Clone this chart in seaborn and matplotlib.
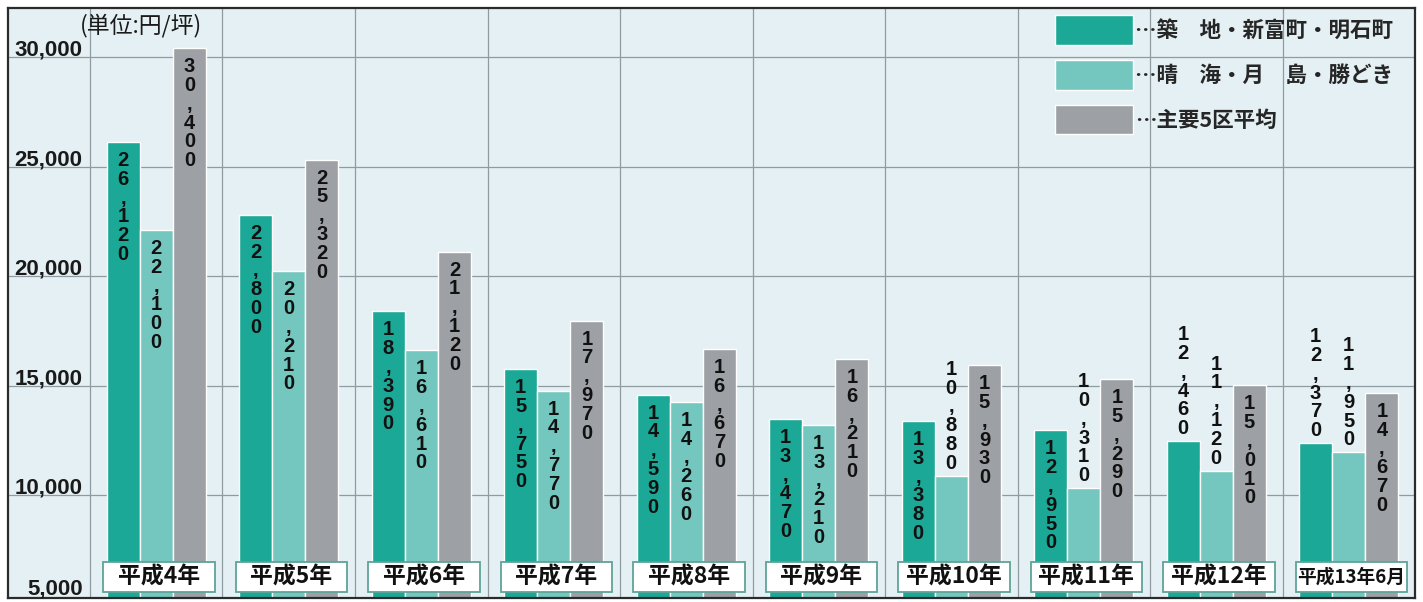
import pandas as pd
import matplotlib.pyplot as plt
import matplotlib.transforms as mtransforms
from matplotlib.patches import Rectangle
from matplotlib.font_manager import FontProperties
import seaborn as sns

years = ['平成4年', '平成5年', '平成6年', '平成7年', '平成8年',
         '平成9年', '平成10年', '平成11年', '平成12年', '平成13年6月']
areas = ['築　地・新富町・明石町', '晴　海・月　島・勝どき', '主要5区平均']
tsukiji = [26120, 22800, 18390, 15750, 14590, 13470, 13380, 12950, 12460, 12370]
harumi = [22100, 20210, 16610, 14770, 14260, 13210, 10880, 10310, 11120, 11950]
avg5 = [30400, 25320, 21120, 17970, 16670, 16210, 15930, 15290, 15010, 14670]
yticks = [5000, 10000, 15000, 20000, 25000, 30000]
colors = ['#1ba896', '#74c7bf', '#9da0a4']

df = pd.DataFrame({
    '年': years * 3,
    '地区': [a for a in areas for _ in years],
    '価格': tsukiji + harumi + avg5,
})

sns.set_theme(style='white')
plt.rcParams['font.family'] = ['Noto Sans CJK JP', 'DejaVu Sans']

W, H = 1423, 602
fig = plt.figure(figsize=(W / 100, H / 100), dpi=100)
fig.patch.set_facecolor('white')
ax = fig.add_axes([8 / W, 4 / H, 1407 / W, 590 / H])
ax.set_facecolor('#e4f0f3')

sns.barplot(data=df, x='年', y='価格', hue='地区', palette=colors, saturation=1,
            width=0.75, ax=ax, zorder=2)

grid = '#8e9ca2'
ymin = 5300
ax.set_ylim(ymin, 32240)
ax.set_xlim(-0.5 - 82 / 132.5, 9.5)
for y in yticks:
    ax.axhline(y, color=grid, lw=0.9, zorder=1)
    # bottom label sits just inside the frame
    ax.text(-0.555, max(y + 60, ymin + 150), f'{y:,}', ha='right', va='baseline', fontsize=16,
            fontweight='bold', family='Liberation Sans', color='#1a1a1a', zorder=3)
for k in range(10):
    ax.axvline(k - 0.5, color=grid, lw=0.9, zorder=1)

ax.set_xticks([])
ax.set_yticks([])
ax.set_xlabel('')
ax.set_ylabel('')
for s in ax.spines.values():
    s.set_color('#2b2b2b')
    s.set_linewidth(1.6)

# vertical value labels, one character per line (pitch in px)
pitch = 18.8
for cont in ax.containers:
    for bar in cont:
        h = bar.get_height()
        x = bar.get_x() + bar.get_width() / 2
        chars = list(f'{int(h):,}')
        if h > 12600:
            start = -24
        else:
            start = 7 + pitch * (len(chars) - 1)
        for j, ch in enumerate(chars):
            ax.annotate(ch, (x, h), xytext=(0, (start - j * pitch) * 0.72),
                        textcoords='offset points', ha='center', va='baseline',
                        fontsize=14.5, fontweight='bold', family='Liberation Sans',
                        color='#111111', zorder=3)

# year boxes
trans = mtransforms.blended_transform_factory(ax.transData, ax.transAxes)
for i, yr in enumerate(years):
    ax.add_patch(Rectangle((i - 0.40, 0.010), 0.84, 0.051, transform=trans,
                           fc='white', ec='#5fa399', lw=1.3, zorder=4))
    ax.text(i + 0.02, 0.036, yr, transform=trans, ha='center', va='center',
            fontsize=16.5 if len(yr) < 6 else 13.5, fontweight='bold', color='#111111', zorder=5)

handles, labels = ax.get_legend_handles_labels()
ax.legend(handles, ['…' + a for a in areas], loc='upper left',
          bbox_to_anchor=(1055 / W, 1 - 15 / H), bbox_transform=fig.transFigure,
          frameon=False, handlelength=3.6, handleheight=1.75, handletextpad=0.1,
          labelspacing=0.7, borderpad=0, borderaxespad=0,
          prop=FontProperties(family=['Noto Sans CJK JP', 'DejaVu Sans'], weight='bold', size=15.5))

fig.text(80 / W, 1 - 25 / H, '(単位:円/坪)', fontsize=16.5, ha='left', va='center', color='#1a1a1a')

fig.savefig('out.png', dpi=100)
